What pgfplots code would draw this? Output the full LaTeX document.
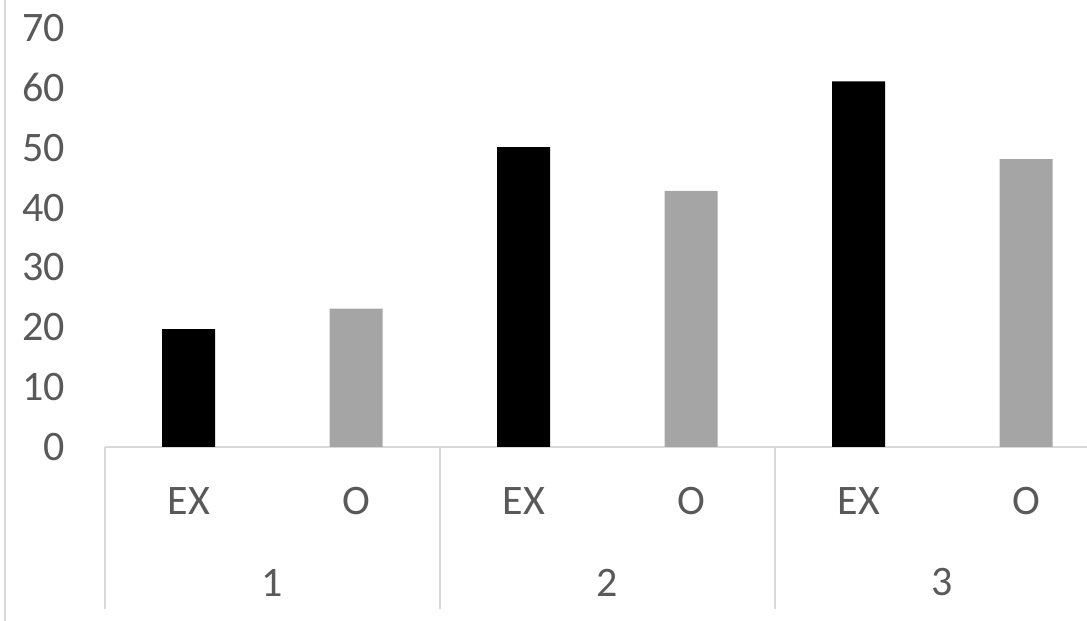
\documentclass[border=0pt]{standalone}
\usepackage{pgfplots}
\pgfplotsset{compat=1.18}
\usepackage{fontspec}
\setmainfont{Carlito}
\definecolor{txt}{HTML}{595959}
\definecolor{grid}{HTML}{D9D9D9}
\definecolor{obar}{HTML}{A5A5A5}
\begin{document}
\begin{tikzpicture}
\path[use as bounding box] (0,0) rectangle (543.5pt,310.5pt);
\draw[grid, line width=0.6pt] (2.5pt,0) -- (2.5pt,310.5pt);
\begin{axis}[
  at={(52.5pt,87pt)}, anchor=south west,
  scale only axis, width=491pt, height=209.5pt,
  xmin=-0.5, xmax=5.363, ymin=0, ymax=70,
  enlargelimits=false, clip=false,
  axis x line=bottom, axis y line*=left,
  x axis line style={draw=grid, line width=0.9pt, -},
  y axis line style={draw=none},
  major tick length=0pt,
  ytick={0,10,...,70},
  xtick={0,1,2,3,4,5},
  xticklabels={EX,O,EX,O,EX,O},
  /pgf/number format/assume math mode=true,
  tick label style={font=\fontsize{21}{25}\selectfont, text=txt},
  yticklabel style={anchor=east, inner sep=0pt, xshift=-20pt},
  xticklabel style={anchor=center, inner sep=0pt, yshift=-27pt},
  ybar, bar width=26.5pt,
]
\addplot[fill=black, draw=none, bar shift=0pt] coordinates {(0,19.7) (2,50.1) (4,61.1)};
\addplot[fill=obar, draw=none, bar shift=0pt] coordinates {(1,23.1) (3,42.8) (5,48.1)};
\foreach \x in {-0.5,1.5,3.5} {
  \edef\tmp{\noexpand\draw[grid, line width=0.9pt] (axis cs:\x,0) -- ([yshift=-81pt]axis cs:\x,0);}\tmp
}
\foreach \x/\l in {0.5/1,2.5/2,4.5/3} {
  \edef\tmp{\noexpand\node[text=txt, font=\noexpand\fontsize{21}{25}\noexpand\selectfont, inner sep=0pt] at (axis cs:\x,0) [yshift=-67.75pt] {\l};}\tmp
}
\end{axis}
\end{tikzpicture}
\end{document}
